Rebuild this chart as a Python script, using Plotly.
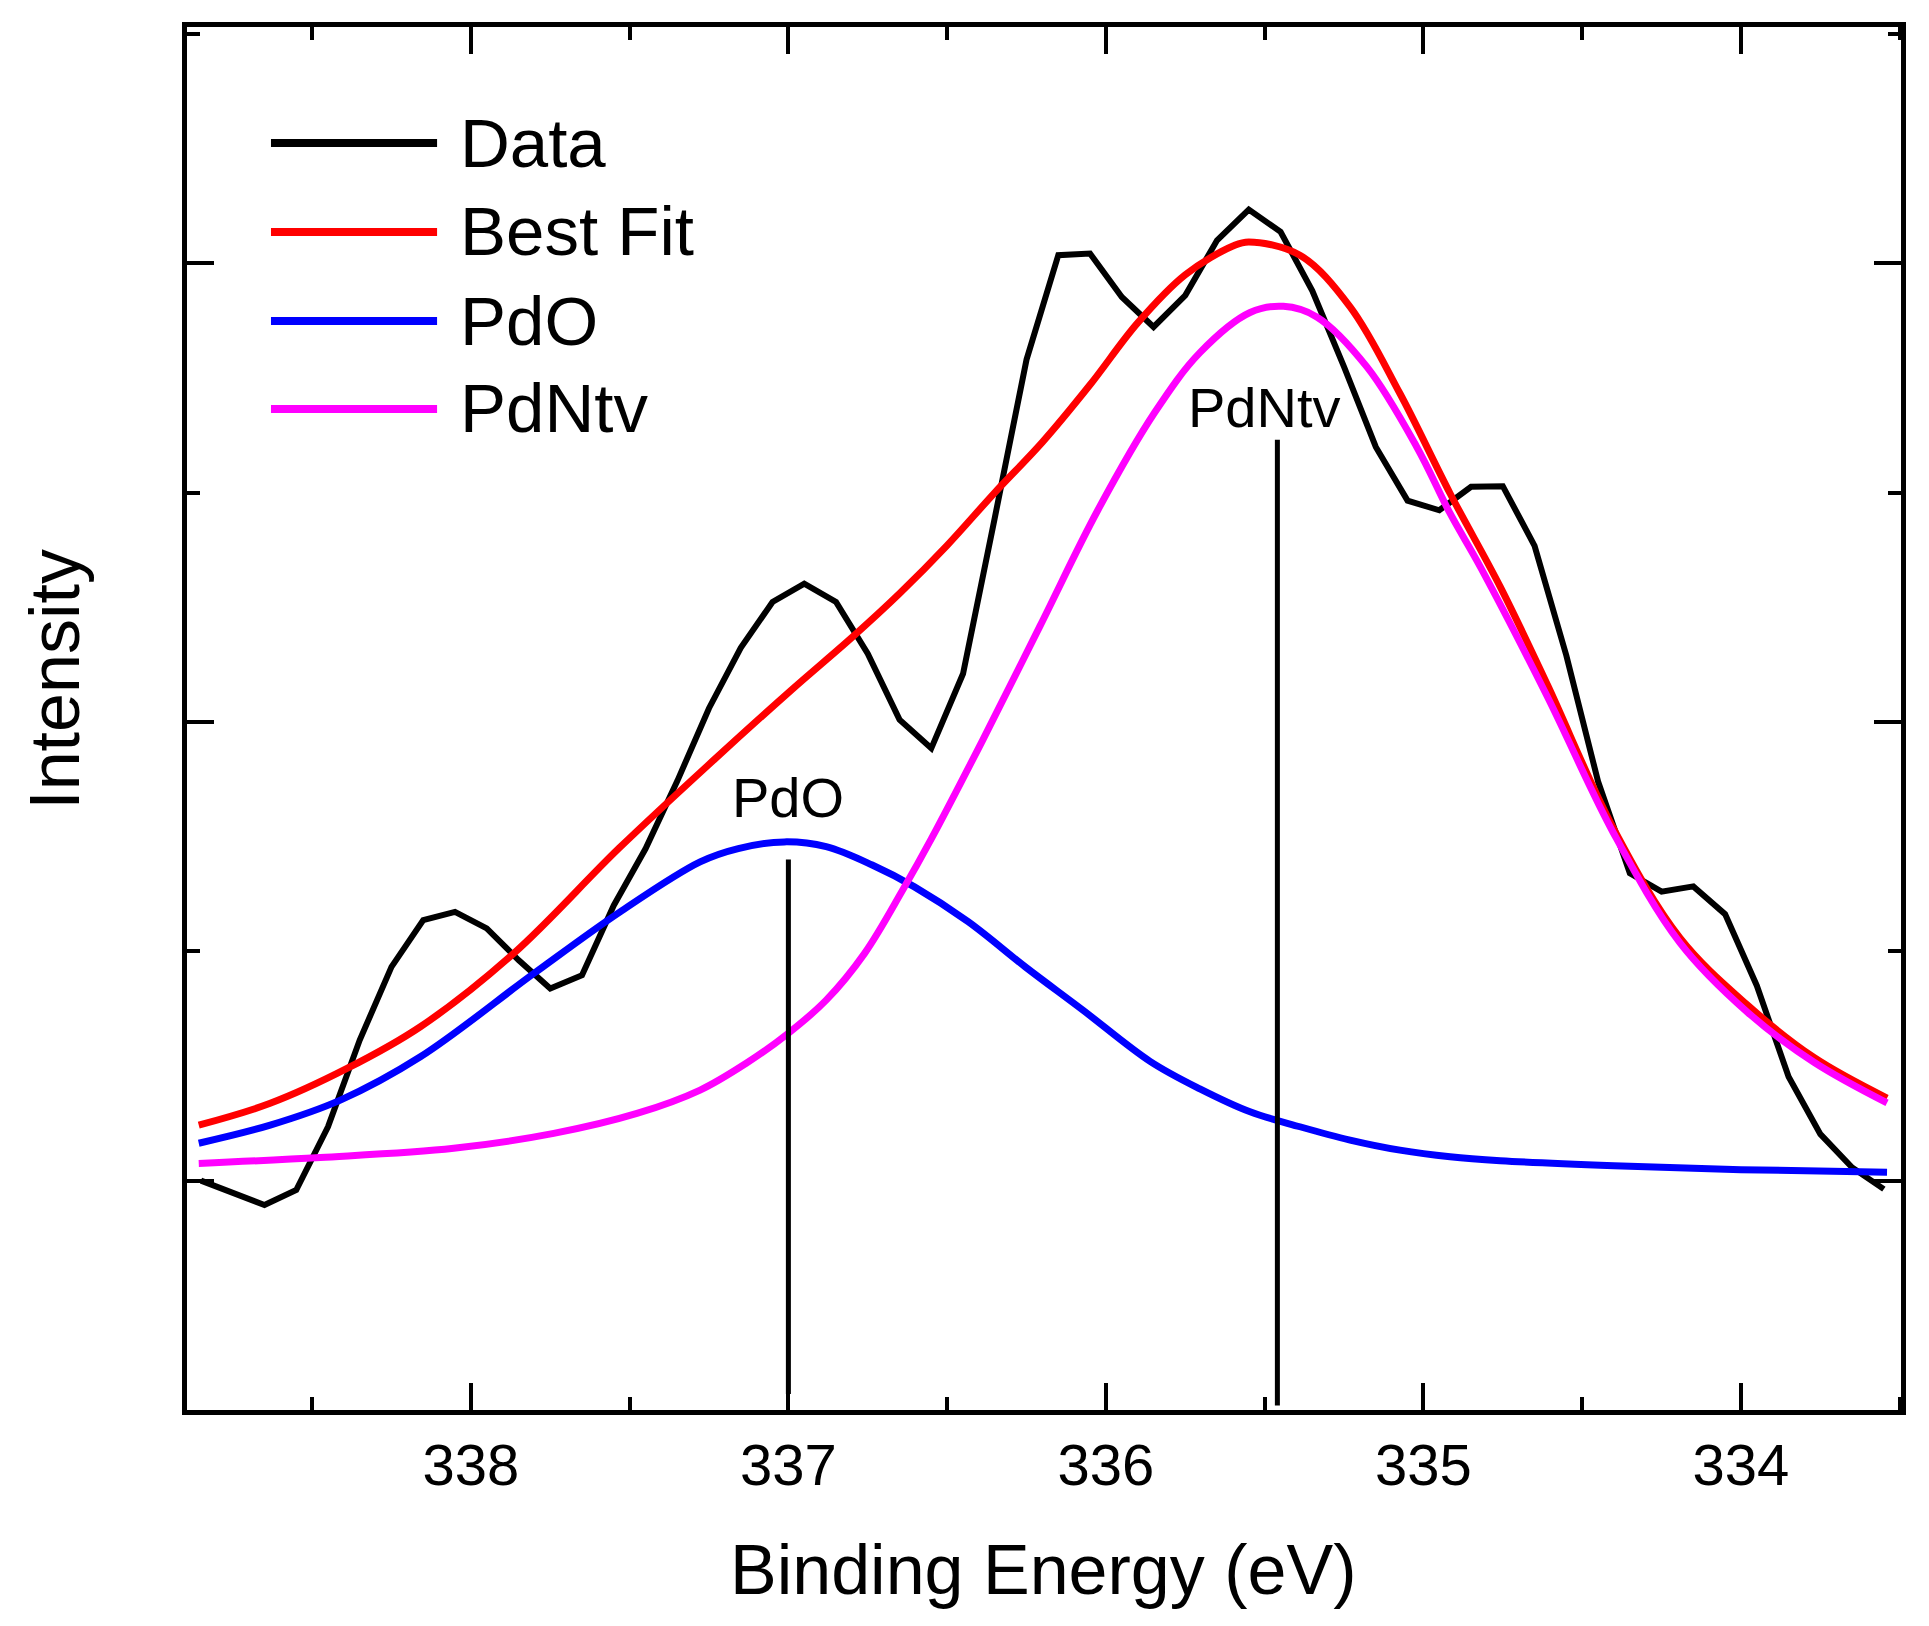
import plotly.graph_objects as go

# ---------------- data ----------------
data_x = [338.85, 338.75, 338.65, 338.55, 338.45, 338.35, 338.25, 338.15, 338.05, 337.95,
          337.85, 337.75, 337.65, 337.55, 337.45, 337.35, 337.25, 337.15, 337.05, 336.95,
          336.85, 336.75, 336.65, 336.55, 336.45, 336.35, 336.25, 336.15, 336.05, 335.95,
          335.85, 335.75, 335.65, 335.55, 335.45, 335.35, 335.25, 335.15, 335.05, 334.95,
          334.85, 334.75, 334.65, 334.55, 334.45, 334.35, 334.25, 334.15, 334.05, 333.95,
          333.85, 333.75, 333.65, 333.55]
data_y = [1.00, 0.95, 0.894, 0.959, 1.235, 1.613, 1.932, 2.136, 2.172, 2.10,
          1.962, 1.838, 1.896, 2.20, 2.447, 2.742, 3.06, 3.323, 3.523, 3.603,
          3.523, 3.298, 3.01, 2.885, 3.21, 3.89, 4.58, 5.035, 5.042, 4.853,
          4.722, 4.86, 5.10, 5.234, 5.137, 4.88, 4.548, 4.199, 3.965, 3.923,
          4.025, 4.028, 3.768, 3.29, 2.74, 2.34, 2.26, 2.283, 2.162, 1.85,
          1.453, 1.203, 1.057, 0.963]

fit_x = [338.857, 338.632, 338.39, 338.159, 337.865, 337.533, 337.232, 336.990, 336.797,
         336.65, 336.5, 336.35, 336.2, 336.05, 335.9, 335.75, 335.6, 335.55, 335.389,
         335.231, 335.074, 334.916, 334.758, 334.61, 334.402, 334.192, 333.98, 333.77, 333.54]
fit_y = [1.242, 1.337, 1.489, 1.671, 1.991, 2.45, 2.838, 3.14, 3.372,
         3.56, 3.77, 4.0, 4.22, 4.47, 4.74, 4.95, 5.075, 5.093, 5.035,
         4.81, 4.432, 3.996, 3.589, 3.163, 2.537, 2.058, 1.766, 1.537, 1.36]

pdo_x = [338.857, 338.632, 338.411, 338.159, 337.802, 337.53, 337.278, 337.158, 337.013,
         336.881, 336.736, 336.603, 336.434, 336.254, 336.073, 335.861, 335.704, 335.546,
         335.389, 335.231, 335.074, 334.916, 334.758, 334.4, 334.0, 333.54]
pdo_y = [1.163, 1.242, 1.351, 1.54, 1.903, 2.172, 2.39, 2.448, 2.477,
         2.456, 2.376, 2.281, 2.129, 1.932, 1.744, 1.52, 1.40, 1.30,
         1.235, 1.177, 1.133, 1.104, 1.087, 1.065, 1.048, 1.037]

pdntv_x = [338.857, 338.474, 338.054, 337.739, 337.477, 337.278, 337.134, 337.001, 336.881,
           336.760, 336.640, 336.55, 336.388, 336.207, 336.026, 335.846, 335.704, 335.546,
           335.441, 335.336, 335.178, 335.021, 334.916, 334.82, 334.61, 334.402, 334.192,
           333.98, 333.77, 333.54]
pdntv_y = [1.075, 1.101, 1.141, 1.206, 1.293, 1.395, 1.511, 1.642, 1.787,
           1.991, 2.267, 2.49, 2.921, 3.42, 3.922, 4.35, 4.61, 4.785,
           4.812, 4.766, 4.548, 4.199, 3.909, 3.674, 3.111, 2.517, 2.037,
           1.735, 1.516, 1.339]

series_names = ["Data", "Best Fit", "PdO", "PdNtv"]
series_colors = ["#000000", "#FF0000", "#0000FF", "#FF00FF"]

peak_labels = ["PdO", "PdNtv"]
peak_pos = [337.0, 335.46]
peak_top = [2.40, 4.23]
peak_bottom = [0.07, 0.02]
peak_label_x = [337.0, 335.50]
peak_label_y = [2.67, 4.37]

x_ticks = [338, 337, 336, 335, 334]
x_range = [338.894, 333.496]
y_range = [0, 6.03]

FONT = "Arial, Liberation Sans, sans-serif"

fig = go.Figure()
xs = [data_x, fit_x, pdo_x, pdntv_x]
ys = [data_y, fit_y, pdo_y, pdntv_y]
for i, name in enumerate(series_names):
    fig.add_trace(go.Scatter(
        x=xs[i], y=ys[i], mode="lines", name=name, showlegend=False,
        line=dict(color=series_colors[i], width=6 if i == 0 else 7,
                  shape="linear" if i == 0 else "spline", smoothing=1.0),
        hoverinfo="skip"))

for i, lbl in enumerate(peak_labels):
    fig.add_trace(go.Scatter(
        x=[peak_pos[i], peak_pos[i]], y=[peak_bottom[i], peak_top[i]],
        mode="lines", line=dict(color="#000000", width=5), showlegend=False,
        hoverinfo="skip"))
    fig.add_annotation(x=peak_label_x[i], y=peak_label_y[i], text=lbl, showarrow=False,
                       xref="x", yref="y", xanchor="center", yanchor="middle",
                       font=dict(family=FONT, size=56, color="#000000"))

# custom legend (long line samples as in the original)
leg_rows = [0.9161, 0.8518, 0.7874, 0.7238]
for i, name in enumerate(series_names):
    fig.add_shape(type="line", xref="paper", yref="paper",
                  x0=0.049, x1=0.1459, y0=leg_rows[i], y1=leg_rows[i],
                  line=dict(color=series_colors[i], width=8))
    fig.add_annotation(xref="paper", yref="paper", x=0.1581, y=leg_rows[i],
                       text=name, showarrow=False, xanchor="left", yanchor="middle",
                       font=dict(family=FONT, size=69, color="#000000"))

# axis titles
fig.add_annotation(xref="paper", yref="paper", x=0.4994, y=-0.1157,
                   text="Binding Energy (eV)", showarrow=False,
                   xanchor="center", yanchor="middle",
                   font=dict(family=FONT, size=70, color="#000000"))
fig.add_annotation(xref="paper", yref="paper", x=-0.077, y=0.528,
                   text="Intensity", showarrow=False, textangle=-90,
                   xanchor="center", yanchor="middle",
                   font=dict(family=FONT, size=70, color="#000000"))

fig.update_xaxes(
    range=x_range, tickmode="array", tickvals=x_ticks,
    ticktext=[str(t) for t in x_ticks],
    ticks="inside", ticklen=27, tickwidth=3.5, tickcolor="#000000",
    minor=dict(ticks="inside", dtick=0.5, tick0=0, ticklen=13, tickwidth=3.5,
               tickcolor="#000000"),
    showline=True, linewidth=5, linecolor="#000000", mirror="allticks",
    showgrid=False, zeroline=False,
    tickfont=dict(family=FONT, size=58, color="#000000"), ticklabelstandoff=0)
fig.update_yaxes(
    range=y_range, tick0=1, dtick=2,
    ticks="inside", ticklen=27, tickwidth=3.5, tickcolor="#000000",
    minor=dict(ticks="inside", dtick=1, tick0=0, ticklen=13, tickwidth=3.5,
               tickcolor="#000000"),
    showticklabels=False,
    showline=True, linewidth=5, linecolor="#000000", mirror="allticks",
    showgrid=False, zeroline=False)

# page body has an 8px default margin: size and margins compensate for it
fig.update_layout(
    width=1921, height=1618,
    margin=dict(l=179, r=28, t=19, b=216),
    paper_bgcolor="#FFFFFF", plot_bgcolor="#FFFFFF",
    font=dict(family=FONT, color="#000000"),
    showlegend=False)

fig.write_html("out.html")
